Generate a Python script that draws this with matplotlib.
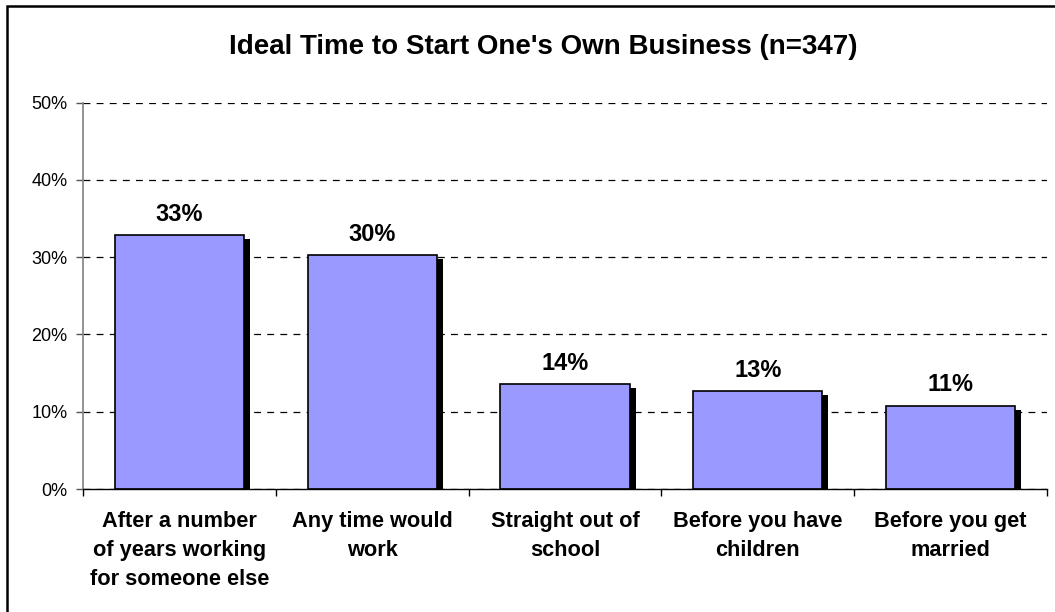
import matplotlib
matplotlib.use("Agg")
import matplotlib.pyplot as plt
from matplotlib.patches import Rectangle
from matplotlib.ticker import FixedLocator

# ---- data ----
title = "Ideal Time to Start One's Own Business (n=347)"
categories = [
    "After a number\nof years working\nfor someone else",
    "Any time would\nwork",
    "Straight out of\nschool",
    "Before you have\nchildren",
    "Before you get\nmarried",
]
values = [32.9, 30.3, 13.6, 12.7, 10.8]
value_labels = ["33%", "30%", "14%", "13%", "11%"]
yticks = [0, 10, 20, 30, 40, 50]
ytick_labels = ["0%", "10%", "20%", "30%", "40%", "50%"]

plt.rcParams['font.family'] = ['Liberation Sans', 'DejaVu Sans']

W, H = 1055, 612
fig = plt.figure(figsize=(W / 100, H / 100), dpi=100)
fig.patch.set_facecolor('white')

# outer border (clipped by image edges on right/bottom)
fig.patches.append(Rectangle((7 / W, -0.05), 1.1, 1 - 6 / H + 0.05,
                             transform=fig.transFigure, fill=False,
                             edgecolor='black', linewidth=1.8, zorder=0))

ax = fig.add_axes([83 / W, (H - 489) / H, (1047 - 83) / W, (489 - 102.5) / H])
ax.set_facecolor('white')

x = list(range(len(categories)))
bar_w = 0.67
px_x = 1.0 / 192.8            # data units per pixel (x)
px_y = 10.0 / 77.3            # data units per pixel (y)

# shadows
shadow_vals = [v - 4 * px_y for v in values]
ax.bar([i + 6 * px_x for i in x], shadow_vals, width=bar_w, color='black',
       edgecolor='black', linewidth=0, zorder=2)
# main bars
bars = ax.bar(x, values, width=bar_w, color='#9999FF', edgecolor='black',
              linewidth=1.2, zorder=3)

for rect, lab in zip(bars, value_labels):
    ax.annotate(lab, (rect.get_x() + rect.get_width() / 2, rect.get_height()),
                xytext=(0, 6.5), textcoords='offset points', ha='center',
                va='bottom', fontsize=17, fontweight='bold', zorder=5)

ax.set_xlim(-0.5, len(categories) - 0.5)
ax.set_ylim(0, 50)

ax.set_yticks(yticks)
ax.set_yticklabels(ytick_labels, fontsize=13)
ax.yaxis.grid(True, color='black', linestyle=(0, (5.5, 5)), linewidth=0.9, zorder=1)
ax.set_axisbelow(True)

ax.set_xticks(x)
ax.set_xticklabels(categories, fontsize=15.7, fontweight='bold', linespacing=1.5)
ax.xaxis.set_minor_locator(FixedLocator([i - 0.5 for i in range(len(categories) + 1)]))
ax.tick_params(axis='x', which='major', length=0, pad=16)
ax.tick_params(axis='x', which='minor', length=5, direction='out', color='black', width=1)
ax.tick_params(axis='y', length=5, direction='out', color='#555555', width=1, pad=6)

for s in ['top', 'right']:
    ax.spines[s].set_visible(False)
ax.spines['left'].set_color('#808080')
ax.spines['left'].set_linewidth(1.2)
ax.spines['bottom'].set_color('black')
ax.spines['bottom'].set_linewidth(1.0)
ax.spines['bottom'].set_zorder(4)

fig.text(543.5 / W, 1 - 47 / H, title, ha='center', va='center',
         fontsize=20, fontweight='bold')

fig.savefig('out.png', dpi=100, facecolor='white')
